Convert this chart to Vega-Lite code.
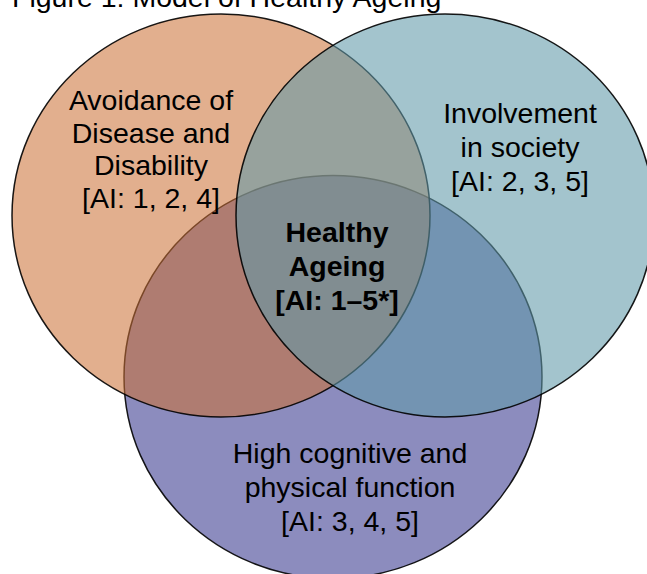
{
  "$schema": "https://vega.github.io/schema/vega-lite/v6.json",
  "autosize": {"type": "none"},
  "width": 647,
  "height": 574,
  "padding": 0,
  "background": "#ffffff",
  "config": {"view": {"stroke": null}},
  "datasets": {
    "circles": [
      {"set": "High cognitive and physical function", "cx": 333, "cy": 377},
      {"set": "Avoidance of Disease and Disability", "cx": 221, "cy": 215.5},
      {"set": "Involvement in society", "cx": 445, "cy": 215.5}
    ],
    "labels": [
      {"label": "Avoidance of\nDisease and\nDisability\n[AI: 1, 2, 4]", "lx": 151, "ly": 110, "group": "left"},
      {"label": "Involvement\nin society\n[AI: 2, 3, 5]", "lx": 520, "ly": 123, "group": "other"},
      {"label": "Healthy\nAgeing\n[AI: 1–5*]", "lx": 337, "ly": 242, "group": "centre"},
      {"label": "High cognitive and\nphysical function\n[AI: 3, 4, 5]", "lx": 350, "ly": 463, "group": "other"}
    ],
    "title": [
      {"label": "Figure 1: Model of Healthy Ageing", "lx": 12, "ly": 7}
    ]
  },
  "encoding": {
    "x": {"type": "quantitative", "scale": {"domain": [0, 647], "nice": false, "zero": false}, "axis": null},
    "y": {"type": "quantitative", "scale": {"domain": [0, 574], "nice": false, "zero": false, "reverse": true}, "axis": null}
  },
  "layer": [
    {
      "data": {"name": "circles"},
      "transform": [{"filter": "datum.set == 'High cognitive and physical function'"}],
      "mark": {
        "type": "point", "filled": true, "opacity": 1,
        "shape": "M-1,0C-1,-0.5324,-0.5523,-0.964,0,-0.964C0.5523,-0.964,1,-0.5324,1,0C1,0.5324,0.5523,0.964,0,0.964C-0.5523,0.964,-1,0.5324,-1,0Z",
        "size": 174724,
        "fill": "#8C8CBE", "fillOpacity": 1,
        "stroke": "#000000", "strokeWidth": 1.5, "strokeOpacity": 0.9
      },
      "encoding": {
        "x": {"field": "cx", "type": "quantitative"},
        "y": {"field": "cy", "type": "quantitative"}
      }
    },
    {
      "data": {"name": "circles"},
      "transform": [{"filter": "datum.set == 'Avoidance of Disease and Disability'"}],
      "mark": {
        "type": "point", "filled": true, "opacity": 1,
        "shape": "M-1,0C-1,-0.5324,-0.5523,-0.964,0,-0.964C0.5523,-0.964,1,-0.5324,1,0C1,0.5324,0.5523,0.964,0,0.964C-0.5523,0.964,-1,0.5324,-1,0Z",
        "size": 174724,
        "fill": "#CB7035", "fillOpacity": 0.56,
        "stroke": "#000000", "strokeWidth": 1.5, "strokeOpacity": 0.9
      },
      "encoding": {
        "x": {"field": "cx", "type": "quantitative"},
        "y": {"field": "cy", "type": "quantitative"}
      }
    },
    {
      "data": {"name": "circles"},
      "transform": [{"filter": "datum.set == 'Involvement in society'"}],
      "mark": {
        "type": "point", "filled": true, "opacity": 1,
        "shape": "M-1,0C-1,-0.5324,-0.5523,-0.964,0,-0.964C0.5523,-0.964,1,-0.5324,1,0C1,0.5324,0.5523,0.964,0,0.964C-0.5523,0.964,-1,0.5324,-1,0Z",
        "size": 174724,
        "fill": "#6099A9", "fillOpacity": 0.58,
        "stroke": "#000000", "strokeWidth": 1.5, "strokeOpacity": 0.9
      },
      "encoding": {
        "x": {"field": "cx", "type": "quantitative"},
        "y": {"field": "cy", "type": "quantitative"}
      }
    },
    {
      "data": {"name": "labels"},
      "transform": [{"filter": "datum.group == 'left'"}],
      "mark": {"type": "text", "font": "Liberation Sans", "fontSize": 28.5, "lineHeight": 32.5, "lineBreak": "\n", "align": "center", "baseline": "alphabetic", "color": "#000000"},
      "encoding": {
        "x": {"field": "lx", "type": "quantitative"},
        "y": {"field": "ly", "type": "quantitative"},
        "text": {"field": "label", "type": "nominal"}
      }
    },
    {
      "data": {"name": "labels"},
      "transform": [{"filter": "datum.group == 'other'"}],
      "mark": {"type": "text", "font": "Liberation Sans", "fontSize": 28.5, "lineHeight": 33.8, "lineBreak": "\n", "align": "center", "baseline": "alphabetic", "color": "#000000"},
      "encoding": {
        "x": {"field": "lx", "type": "quantitative"},
        "y": {"field": "ly", "type": "quantitative"},
        "text": {"field": "label", "type": "nominal"}
      }
    },
    {
      "data": {"name": "labels"},
      "transform": [{"filter": "datum.group == 'centre'"}],
      "mark": {"type": "text", "font": "Liberation Sans", "fontSize": 28.5, "fontWeight": "bold", "lineHeight": 34, "lineBreak": "\n", "align": "center", "baseline": "alphabetic", "color": "#000000"},
      "encoding": {
        "x": {"field": "lx", "type": "quantitative"},
        "y": {"field": "ly", "type": "quantitative"},
        "text": {"field": "label", "type": "nominal"}
      }
    },
    {
      "data": {"name": "title"},
      "mark": {"type": "text", "font": "Liberation Sans", "fontSize": 28.5, "align": "left", "baseline": "alphabetic", "color": "#000000"},
      "encoding": {
        "x": {"field": "lx", "type": "quantitative"},
        "y": {"field": "ly", "type": "quantitative"},
        "text": {"field": "label", "type": "nominal"}
      }
    }
  ]
}
